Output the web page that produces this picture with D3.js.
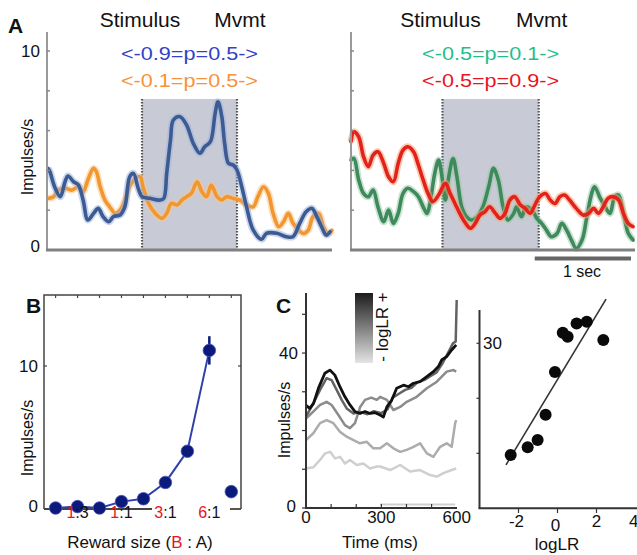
<!DOCTYPE html>
<html>
<head>
<meta charset="utf-8">
<script src="https://cdn.jsdelivr.net/npm/d3@7"></script>
<style>
body{margin:0;background:#fff;}
svg{display:block;font-family:"Liberation Sans",Arial,sans-serif;}
</style>
</head>
<body>
<svg id="fig" width="637" height="555"></svg>
<script>
// panel A traces, [time (s), impulses/s]
const blueTrace = [[-0.99,4.10],[-0.97,3.94],[-0.92,3.18],[-0.86,2.68],[-0.81,3.43],[-0.78,3.72],[-0.72,3.43],[-0.67,3.27],[-0.62,2.51],[-0.57,1.51],[-0.51,1.84],[-0.46,2.09],[-0.41,1.68],[-0.35,1.42],[-0.30,1.68],[-0.23,1.76],[-0.18,2.18],[-0.13,3.68],[-0.09,3.85],[-0.04,3.10],[0.00,2.68],[0.08,2.60],[0.19,2.51],[0.23,2.60],[0.26,3.85],[0.30,5.53],[0.33,6.53],[0.40,6.70],[0.47,6.28],[0.54,5.36],[0.61,4.86],[0.66,5.19],[0.72,5.44],[0.77,6.87],[0.80,7.45],[0.84,6.70],[0.87,5.36],[0.91,4.36],[0.96,4.27],[1.00,4.02],[1.05,3.18],[1.10,2.18],[1.17,1.01],[1.26,0.54],[1.31,0.84],[1.42,0.84],[1.52,0.67],[1.59,0.67],[1.66,1.34],[1.73,1.93],[1.79,2.09],[1.84,1.68],[1.89,1.17],[1.94,0.75],[1.98,0.92]];
const orangeTrace = [[-0.99,2.59],[-0.93,2.68],[-0.88,3.01],[-0.81,3.10],[-0.74,3.01],[-0.67,3.18],[-0.62,2.93],[-0.57,3.52],[-0.51,4.10],[-0.48,3.93],[-0.44,3.18],[-0.39,2.51],[-0.34,2.17],[-0.28,1.84],[-0.23,2.01],[-0.18,2.51],[-0.13,3.18],[-0.07,3.60],[-0.02,3.68],[0.01,3.18],[0.07,2.34],[0.14,1.84],[0.21,1.59],[0.26,1.84],[0.31,2.34],[0.37,2.26],[0.42,2.51],[0.47,2.68],[0.52,2.85],[0.58,3.43],[0.63,2.93],[0.68,2.68],[0.73,3.26],[0.79,2.68],[0.84,2.51],[0.89,2.68],[0.96,2.59],[1.03,2.51],[1.10,2.26],[1.17,2.17],[1.22,2.68],[1.28,3.18],[1.33,2.85],[1.38,1.84],[1.44,1.17],[1.49,1.42],[1.54,1.84],[1.59,1.34],[1.65,1.00],[1.70,0.83],[1.75,1.00],[1.80,1.67],[1.86,1.84],[1.91,1.17],[1.96,0.83],[2.00,1.00]];
const greenTrace = [[-0.95,4.52],[-0.92,4.60],[-0.87,3.52],[-0.82,2.84],[-0.77,2.68],[-0.72,3.01],[-0.67,2.17],[-0.61,1.42],[-0.56,2.01],[-0.51,1.34],[-0.46,1.84],[-0.41,2.84],[-0.36,3.10],[-0.30,2.93],[-0.25,2.68],[-0.20,2.17],[-0.16,1.84],[-0.13,2.34],[-0.08,3.85],[-0.04,4.52],[-0.01,3.85],[0.03,2.51],[0.06,3.52],[0.11,4.60],[0.15,3.68],[0.20,2.17],[0.25,1.67],[0.30,1.51],[0.36,1.67],[0.42,2.17],[0.48,3.18],[0.53,4.10],[0.58,3.52],[0.63,2.17],[0.68,1.51],[0.74,1.84],[0.77,2.17],[0.82,1.67],[0.87,2.17],[0.93,2.01],[0.98,1.59],[1.03,1.34],[1.08,1.00],[1.13,0.67],[1.19,0.83],[1.24,1.34],[1.29,1.00],[1.34,0.50],[1.39,0.08],[1.45,0.50],[1.50,1.67],[1.55,2.84],[1.58,3.18],[1.64,2.59],[1.69,2.17],[1.74,1.84],[1.79,2.68],[1.83,2.76],[1.88,1.84],[1.93,0.84],[1.98,0.50]];
const redTrace = [[-0.95,5.44],[-0.92,5.94],[-0.87,5.69],[-0.82,4.69],[-0.77,4.19],[-0.72,4.77],[-0.67,4.94],[-0.61,4.35],[-0.56,3.68],[-0.51,3.43],[-0.46,4.35],[-0.41,5.02],[-0.36,5.19],[-0.30,4.94],[-0.25,4.27],[-0.20,3.52],[-0.15,2.84],[-0.10,2.43],[-0.04,2.76],[0.03,3.35],[0.08,2.84],[0.13,2.34],[0.18,1.84],[0.23,1.42],[0.29,1.09],[0.34,1.34],[0.39,1.76],[0.44,1.92],[0.49,2.17],[0.55,1.84],[0.60,1.59],[0.65,1.84],[0.70,2.51],[0.75,2.68],[0.81,2.26],[0.86,2.09],[0.91,1.84],[0.96,2.26],[1.01,2.68],[1.07,2.84],[1.12,2.51],[1.17,2.34],[1.22,2.68],[1.27,2.76],[1.32,2.51],[1.39,2.09],[1.46,1.76],[1.52,1.84],[1.57,2.09],[1.62,1.84],[1.67,2.17],[1.72,2.59],[1.77,2.68],[1.83,2.51],[1.88,1.84],[1.93,1.34],[1.98,1.17]];
const leftLabels = ['<-0.9=p=0.5->', '<-0.1=p=0.5->'];
const rightLabels = ['<-0.5=p=0.1->', '<-0.5=p=0.9->'];

// panel B
const rewardIndex = [0,1,2,3,4,5,6,7,8];
const rewardRates = [0,0.1,0,0.45,0.65,1.8,4.0,11.1,1.15];
const rewardErr = [0,0,0,0,0,0,0,1.0,0];
const rewardTickIdx = [1,3,5,7];
const rewardTickB = ['1','1','3','6'];
const rewardTickA = [':3',':1',':1',':1'];

// panel C, [time (ms), impulses/s]
const cBlack = [[0,26.5],[15,25.7],[30,27],[50,31],[75,34.8],[95,35.6],[115,34.3],[135,31.3],[155,28.7],[175,26.6],[195,24.9],[215,24.4],[235,24.9],[255,24.4],[275,24.6],[295,24.0],[308,23.5],[322,26.1],[341,27.8],[361,30.9],[388,31.7],[408,31.3],[428,32.2],[454,32.6],[481,33.9],[507,35.2],[527,36.5],[540,38.2],[560,39.1],[580,40.8],[598,42.1]];
const cDark = [[0,23.6],[29,27],[56,30.5],[82,33.5],[102,33],[122,30.5],[142,27.9],[162,25.7],[189,24.4],[215,24.8],[245,24.2],[270,25],[300,24.5],[325,25.5],[345,28.5],[370,29.5],[395,30.5],[420,31],[445,32.5],[470,33],[495,34],[520,35],[545,37.5],[565,40],[585,42.5],[596,43],[600,53.7]];
const cMid = [[0,23.1],[29,24.9],[56,26.6],[82,27.4],[102,26.6],[129,24.0],[155,21.4],[175,20.6],[195,21.9],[215,26],[235,27.9],[260,28.5],[282,27.9],[295,28.7],[322,27.9],[348,25.3],[375,26.1],[401,27.4],[441,28.7],[481,30.9],[521,32.6],[560,35.2],[587,35.6],[598,35.2]];
const cLight = [[0,17.5],[29,19.3],[56,21.9],[82,22.7],[109,21.9],[135,19.7],[162,18.4],[189,17.5],[215,16.7],[242,17.1],[268,15.4],[295,15.4],[322,16.7],[348,15.4],[375,14.5],[401,15.0],[428,15.8],[454,16.7],[481,14.1],[507,13.2],[534,15.8],[560,16.7],[580,15.8],[594,21.9],[598,22.7]];
const cFaint = [[0,10.2],[29,10.5],[56,12.4],[76,14.1],[96,14.5],[116,12.8],[136,13.2],[155,11.5],[175,12.4],[202,11.1],[228,11.5],[255,10.2],[282,10.7],[295,10.7],[335,9.8],[375,11.1],[414,9.4],[454,9.8],[494,8.5],[521,8.1],[547,9.0],[580,9.8],[598,10.2]];
const logLR = [-2.40,-1.53,-1.02,-0.61,-0.13,0.27,0.52,0.98,1.50,2.35];
const lrRates = [9.7,11.1,12.4,17.0,24.8,31.9,31.2,33.6,33.9,30.6];
const fitSlope = 5.87;
const fitIntercept = 23.4;
const fitRange = [-2.64, 2.49];

const svg = d3.select('#fig');

function txt(x, y, s, size, anchor, color){
    return svg.append('text').attr('x',x).attr('y',y).text(s).style('font-size',size+'px')
        .attr('text-anchor',anchor || 'start').attr('fill',color || '#111');
}
function vtxt(x, y, s, size){
    return svg.append('text').attr('transform','translate('+x+','+y+') rotate(-90)')
        .text(s).style('font-size',size+'px').attr('text-anchor','middle').attr('fill','#111');
}

// ---------- panel A ----------
const yA = d3.scaleLinear().domain([0,10]).range([250,51]);

function tracePanel(x, traces, labels, labelColors, withNumbers){
    const axisX = x.range()[0];
    svg.append('rect').attr('x',x(0)).attr('y',99).attr('width',x(1)-x(0)).attr('height',250-99)
        .attr('fill','#c8cad6');
    [0,1].forEach(function(t){
        svg.append('line').attr('x1',x(t)).attr('x2',x(t)).attr('y1',99).attr('y2',250)
            .attr('stroke','#555').attr('stroke-width',2.2).attr('stroke-dasharray','1.5,1.5');
    });
    const line = d3.line().x(d => x(d[0])).y(d => yA(d[1])).curve(d3.curveCatmullRom.alpha(0.5));
    traces.forEach(function(tr){
        svg.append('path').attr('d',line(tr.data)).attr('fill','none').attr('stroke',tr.halo)
            .attr('stroke-width',7).attr('stroke-opacity',0.55).attr('stroke-linejoin','round');
        svg.append('path').attr('d',line(tr.data)).attr('fill','none').attr('stroke',tr.core)
            .attr('stroke-width',3.6).attr('stroke-linejoin','round').attr('stroke-linecap','round');
    });
    svg.append('line').attr('x1',axisX).attr('x2',axisX).attr('y1',32).attr('y2',250)
        .attr('stroke','#999').attr('stroke-width',2);
    svg.append('line').attr('x1',axisX-1).attr('x2',x.range()[1]).attr('y1',250).attr('y2',250)
        .attr('stroke','#808080').attr('stroke-width',3);
    d3.range(2,11,2).forEach(function(v){
        svg.append('line').attr('x1',axisX).attr('x2',axisX+3).attr('y1',yA(v)).attr('y2',yA(v))
            .attr('stroke','#888').attr('stroke-width',1.5);
    });
    txt(x(0)-2, 27, 'Stimulus', 21, 'middle');
    txt(x(1)+3, 27, 'Mvmt', 21, 'middle');
    labels.forEach(function(s,i){
        txt((x(0)+x(1))/2, 60+i*27, s, 19, 'middle', labelColors[i]).attr('textLength',137).attr('lengthAdjust','spacingAndGlyphs');
    });
    if(withNumbers){
        txt(40, yA(10)+6, '10', 17, 'end');
        txt(40, yA(0)+2, '0', 17, 'end');
        vtxt(33, 157, 'Impulses/s', 16);
    }
}

const xAl = d3.scaleLinear().domain([-1,2]).range([47,332]);
const xAr = d3.scaleLinear().domain([-0.95,2]).range([351,635]);
tracePanel(xAl, [
    {data: orangeTrace, core:'#f2962e', halo:'#f8c790'},
    {data: blueTrace, core:'#3b5b92', halo:'#9fb3dd'}
], leftLabels, ['#3241c8','#f7923a'], true);
tracePanel(xAr, [
    {data: greenTrace, core:'#3e8a5c', halo:'#9cc8aa'},
    {data: redTrace, core:'#e3221e', halo:'#f6a070'}
], rightLabels, ['#1fbf8c','#e8141e'], false);

svg.append('line').attr('x1',xAr(1)-4).attr('x2',xAr(2)-4).attr('y1',258.5).attr('y2',258.5)
    .attr('stroke','#666').attr('stroke-width',4);
txt(582, 277, '1 sec', 16, 'middle');
txt(8, 33, 'A', 21, 'start').style('font-weight','bold');

// ---------- panel B ----------
const xB = d3.scaleLinear().domain([0,8]).range([55.6,231.3]);
const yB = d3.scaleLinear().domain([0,10]).range([508,366]);

svg.append('path').attr('d','M44,509 L44,295 L241,295 L241,509').attr('fill','none')
    .attr('stroke','#444').attr('stroke-width',1.5);
svg.append('line').attr('x1',44).attr('x2',152).attr('y1',509).attr('y2',509).attr('stroke','#444').attr('stroke-width',1.8);
svg.append('line').attr('x1',230).attr('x2',241).attr('y1',509).attr('y2',509).attr('stroke','#444').attr('stroke-width',1.8);
rewardIndex.forEach(function(i){
    svg.append('line').attr('x1',xB(i)).attr('x2',xB(i)).attr('y1',295).attr('y2',298).attr('stroke','#444').attr('stroke-width',1.2);
});
[44,241].forEach(function(xx,k){
    svg.append('line').attr('x1',xx).attr('x2',xx+(k ? -3 : 3)).attr('y1',yB(10)).attr('y2',yB(10)).attr('stroke','#444').attr('stroke-width',1.2);
});

const lineB = d3.line().x(d => xB(d[0])).y(d => yB(d[1]));
const bPts = rewardIndex.map((i,k) => [i, rewardRates[k]]);
svg.append('path').attr('d',lineB(bPts.slice(0,8))).attr('fill','none').attr('stroke','#2f40ad').attr('stroke-width',2);
bPts.forEach(function(d,k){
    if(rewardErr[k] > 0){
        svg.append('line').attr('x1',xB(d[0])).attr('x2',xB(d[0])).attr('y1',yB(d[1]+rewardErr[k])).attr('y2',yB(d[1]-rewardErr[k]))
            .attr('stroke','#0c1a7c').attr('stroke-width',2.5);
    }
});
svg.selectAll('circle.b').data(bPts).enter().append('circle').attr('class','b')
    .attr('cx',d => xB(d[0])).attr('cy',d => yB(d[1])).attr('r',6.3)
    .attr('fill','#0c1a7c').attr('stroke','#4a5ab8').attr('stroke-width',0.8);

rewardTickIdx.forEach(function(i,k){
    const t = txt(xB(i), 518, '', 16, 'middle');
    t.append('tspan').text(rewardTickB[k]).attr('fill','#e8141e');
    t.append('tspan').text(rewardTickA[k]).attr('fill','#111');
});
const rt = txt(140, 548, 'Reward size (', 17, 'middle');
rt.append('tspan').text('B').attr('fill','#e8141e');
rt.append('tspan').text(' : A)').attr('fill','#111');
txt(38, yB(10)+6, '10', 17, 'end');
txt(38, yB(0)+4, '0', 17, 'end');
vtxt(33, 438, 'Impulses/s', 16);
txt(26, 313, 'B', 21, 'start').style('font-weight','bold');

// ---------- panel C, time course ----------
const xC = d3.scaleLinear().domain([0,600]).range([306,456.7]);
const yC = d3.scaleLinear().domain([0,55.5]).range([508,293]);

const grad = svg.append('defs').append('linearGradient').attr('id','lrgrad')
    .attr('x1',0).attr('y1',0).attr('x2',0).attr('y2',1);
grad.append('stop').attr('offset','0%').attr('stop-color','#1c1c1c');
grad.append('stop').attr('offset','100%').attr('stop-color','#e4e4e4');
svg.append('rect').attr('x',355).attr('y',293).attr('width',18).attr('height',70).attr('fill','url(#lrgrad)');
vtxt(388, 327, '- logLR +', 17);

svg.append('line').attr('x1',380).attr('x2',455).attr('y1',504.5).attr('y2',504.5).attr('stroke','#d0d0d0').attr('stroke-width',2);
const lineC = d3.line().x(d => xC(d[0])).y(d => yC(d[1]));
[[cFaint,'#cfcfcf'],[cLight,'#acacac'],[cMid,'#8c8c8c'],[cDark,'#636363'],[cBlack,'#111']].forEach(function(s){
    svg.append('path').attr('d',lineC(s[0])).attr('fill','none').attr('stroke',s[1])
        .attr('stroke-width',s[1] === '#111' ? 2.8 : 2.5).attr('stroke-linejoin','round');
});
svg.append('line').attr('x1',306).attr('x2',306).attr('y1',293).attr('y2',508).attr('stroke','#333').attr('stroke-width',2);
svg.append('line').attr('x1',305).attr('x2',457).attr('y1',508).attr('y2',508).attr('stroke','#333').attr('stroke-width',2);
d3.range(0,60,10).forEach(function(v){
    svg.append('line').attr('x1',302).attr('x2',306).attr('y1',yC(v)).attr('y2',yC(v)).attr('stroke','#333').attr('stroke-width',1.2);
});
d3.range(100,600,100).forEach(function(v){
    svg.append('line').attr('x1',xC(v)).attr('x2',xC(v)).attr('y1',504).attr('y2',508).attr('stroke','#333').attr('stroke-width',1.2);
});
[0,300,600].forEach(function(v){ txt(xC(v), 523, String(v), 17, 'middle'); });
txt(298, yC(40)+6, '40', 17, 'end');
txt(296, yC(0)+4, '0', 17, 'end');
txt(380, 548, 'Time (ms)', 17, 'middle');
vtxt(290, 420, 'Impulses/s', 16);
txt(276, 313, 'C', 21, 'start').style('font-weight','bold');

// ---------- panel C, logLR scatter ----------
const xL = d3.scaleLinear().domain([-4,4]).range([479.5,635.5]);
const yL = d3.scaleLinear().domain([0,36]).range([508.3,310.3]);

svg.append('line').attr('x1',xL(fitRange[0])).attr('x2',xL(fitRange[1]))
    .attr('y1',yL(fitIntercept+fitSlope*fitRange[0])).attr('y2',yL(fitIntercept+fitSlope*fitRange[1]))
    .attr('stroke','#333').attr('stroke-width',1.6);
svg.selectAll('circle.lr').data(logLR).enter().append('circle').attr('class','lr')
    .attr('cx',d => xL(d)).attr('cy',(d,i) => yL(lrRates[i])).attr('r',6).attr('fill','#0a0a0a');
svg.append('line').attr('x1',479.5).attr('x2',479.5).attr('y1',310).attr('y2',508.3).attr('stroke','#333').attr('stroke-width',2);
svg.append('line').attr('x1',478.5).attr('x2',637).attr('y1',508.3).attr('y2',508.3).attr('stroke','#333').attr('stroke-width',2);
[10,20,30].forEach(function(v){
    svg.append('line').attr('x1',476.5).attr('x2',479.5).attr('y1',yL(v)).attr('y2',yL(v)).attr('stroke','#333').attr('stroke-width',1.2);
});
[-2,0,2].forEach(function(v){
    svg.append('line').attr('x1',xL(v)).attr('x2',xL(v)).attr('y1',508.3).attr('y2',513).attr('stroke','#333').attr('stroke-width',1.2);
});
txt(483, yL(30)+6, '30', 17, 'start');
txt(xL(-2)-2, 527, '-2', 17, 'middle');
txt(xL(0)-2, 531, '0', 17, 'middle');
txt(xL(2), 527, '2', 17, 'middle');
txt(629, 527, '4', 17, 'start');
txt(557, 550, 'logLR', 17, 'middle');
</script>
</body>
</html>
